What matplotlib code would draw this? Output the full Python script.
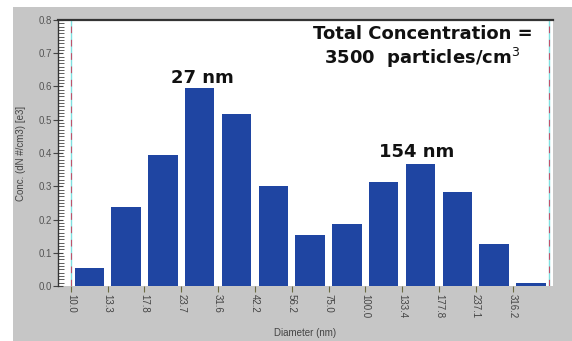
import numpy as np
import matplotlib.pyplot as plt
from matplotlib.patches import Rectangle
from matplotlib.ticker import MultipleLocator

plt.rcParams['font.family'] = ['Liberation Sans', 'DejaVu Sans']

edge_labels = ["10.0", "13.3", "17.8", "23.7", "31.6", "42.2", "56.2",
               "75.0", "100.0", "133.4", "177.8", "237.1", "316.2"]
conc = [0.054, 0.237, 0.393, 0.595, 0.517, 0.301, 0.152,
        0.186, 0.314, 0.367, 0.283, 0.125, 0.01]

fig = plt.figure(figsize=(5.72, 3.41), dpi=100, facecolor="#c6c6c6")
# white strips at top and left of the screenshot
fig.patches.append(Rectangle((0, 0), 13 / 572, 1, transform=fig.transFigure,
                             facecolor="white", edgecolor="none", zorder=0))
fig.patches.append(Rectangle((0, 1 - 7 / 341), 1, 7 / 341, transform=fig.transFigure,
                             facecolor="white", edgecolor="none", zorder=0))

ax = fig.add_axes([58 / 572, 1 - 286 / 341, (553 - 58) / 572, (286 - 20) / 341])
ax.set_facecolor("white")

x = np.arange(len(conc)) + 0.5
ax.bar(x, conc, width=0.8, color="#1f45a2", edgecolor="none", zorder=2)

ax.set_xlim(-0.35, 13.1)
ax.set_ylim(0, 0.8)

ax.set_xticks(np.arange(len(edge_labels)))
ax.set_xticklabels(edge_labels, rotation=270, fontsize=7, color="#444444")
ax.tick_params(axis="x", length=4, width=0.8, color="#6a6a40", pad=1.5)

ax.set_yticks(np.arange(0, 0.81, 0.1))
ax.set_yticklabels([f"{v:.1f}" for v in np.arange(0, 0.81, 0.1)])
ax.yaxis.set_minor_locator(MultipleLocator(0.01))
ax.tick_params(axis="y", which="major", direction="inout", length=7, width=0.8,
               color="#444444", labelsize=7, labelcolor="#555555", pad=1)
ax.tick_params(axis="y", which="minor", direction="in", length=4, width=0.6,
               color="#444444")

for side in ["right", "bottom"]:
    ax.spines[side].set_visible(False)
ax.spines["top"].set_color("#333333")
ax.spines["top"].set_linewidth(1.6)
ax.spines["left"].set_color("#333333")
ax.spines["left"].set_linewidth(1.0)

# range markers
for xv in [0, 13]:
    ax.axvline(xv, color="#7fe0e0", lw=1.0, zorder=1)
    ax.axvline(xv, color="#c0506a", lw=0.8, ls=(0, (6, 6)), zorder=1)

ax.set_xlabel("Diameter (nm)", fontsize=7, color="#444444", labelpad=7)
ax.set_ylabel("Conc. (dN #/cm3) [e3]", fontsize=7, color="#444444", labelpad=9)

note = dict(fontsize=13, fontweight="bold", color="#111111",
            family=["DejaVu Sans"])
ax.text(3.56, 0.611, "27 nm", ha="center", va="baseline", **note)
ax.text(9.4, 0.388, "154 nm", ha="center", va="baseline", **note)
ax.text(9.55, 0.785, "Total Concentration =\n3500  particles/cm$^3$",
        ha="center", va="top", linespacing=1.15, **note)

fig.savefig("out.png", dpi=100, facecolor=fig.get_facecolor())
